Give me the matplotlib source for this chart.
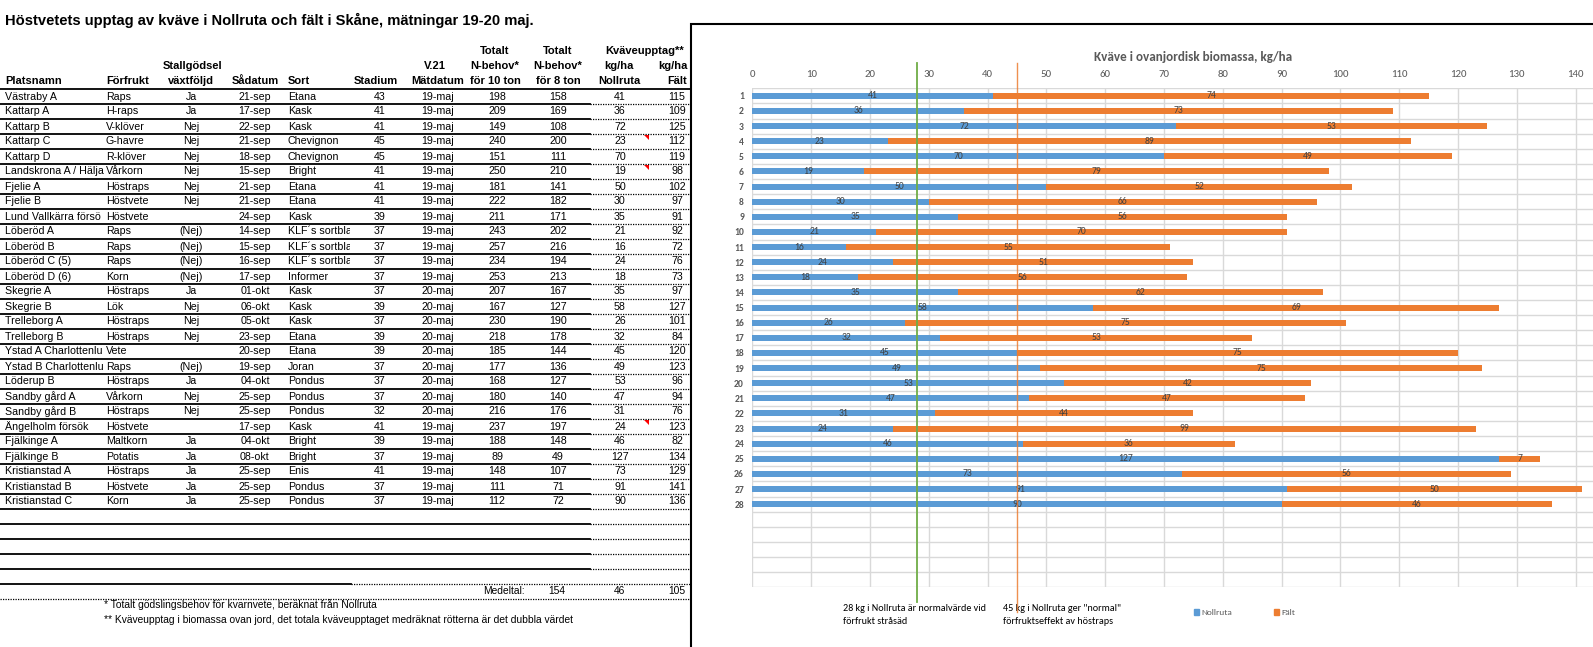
import numpy as np
import matplotlib
matplotlib.use("Agg")
import matplotlib.pyplot as plt
from matplotlib import font_manager
from matplotlib.patches import Rectangle, Polygon, Patch
from matplotlib.transforms import Bbox, blended_transform_factory

# ---------------- data ----------------
title = "Höstvetets upptag av kväve i Nollruta och fält i Skåne, mätningar 19-20 maj."
platsnamn = ["Västraby A", "Kattarp A", "Kattarp B", "Kattarp C", "Kattarp D",
             "Landskrona A / Hälja", "Fjelie A", "Fjelie B", "Lund Vallkärra försö",
             "Löberöd A", "Löberöd B", "Löberöd C (5)", "Löberöd D (6)", "Skegrie A",
             "Skegrie B", "Trelleborg A", "Trelleborg B", "Ystad A Charlottenlu",
             "Ystad B Charlottenlu", "Löderup B", "Sandby gård A", "Sandby gård B",
             "Ängelholm försök", "Fjälkinge A", "Fjälkinge B", "Kristianstad A",
             "Kristianstad B", "Kristianstad C"]
forfrukt = ["Raps", "H-raps", "V-klöver", "G-havre", "R-klöver", "Vårkorn", "Höstraps",
            "Höstvete", "Höstvete", "Raps", "Raps", "Raps", "Korn", "Höstraps", "Lök",
            "Höstraps", "Höstraps", "Vete", "Raps", "Höstraps", "Vårkorn", "Höstraps",
            "Höstvete", "Maltkorn", "Potatis", "Höstraps", "Höstvete", "Korn"]
stallgodsel = ["Ja", "Ja", "Nej", "Nej", "Nej", "Nej", "Nej", "Nej", "", "(Nej)", "(Nej)",
               "(Nej)", "(Nej)", "Ja", "Nej", "Nej", "Nej", "", "(Nej)", "Ja", "Nej", "Nej",
               "", "Ja", "Ja", "Ja", "Ja", "Ja"]
sadatum = ["21-sep", "17-sep", "22-sep", "21-sep", "18-sep", "15-sep", "21-sep", "21-sep",
           "24-sep", "14-sep", "15-sep", "16-sep", "17-sep", "01-okt", "06-okt", "05-okt",
           "23-sep", "20-sep", "19-sep", "04-okt", "25-sep", "25-sep", "17-sep", "04-okt",
           "08-okt", "25-sep", "25-sep", "25-sep"]
sort_ = ["Etana", "Kask", "Kask", "Chevignon", "Chevignon", "Bright", "Etana", "Etana",
         "Kask", "KLF´s sortbla", "KLF´s sortbla", "KLF´s sortbla", "Informer", "Kask",
         "Kask", "Kask", "Etana", "Etana", "Joran", "Pondus", "Pondus", "Pondus", "Kask",
         "Bright", "Bright", "Enis", "Pondus", "Pondus"]
stadium = [43, 41, 41, 45, 45, 41, 41, 41, 39, 37, 37, 37, 37, 37, 39, 37, 39, 39, 37, 37,
           37, 32, 41, 39, 37, 41, 37, 37]
matdatum = ["19-maj"] * 13 + ["20-maj"] * 9 + ["19-maj"] * 6
nbehov10 = [198, 209, 149, 240, 151, 250, 181, 222, 211, 243, 257, 234, 253, 207, 167, 230,
            218, 185, 177, 168, 180, 216, 237, 188, 89, 148, 111, 112]
nbehov8 = [158, 169, 108, 200, 111, 210, 141, 182, 171, 202, 216, 194, 213, 167, 127, 190,
           178, 144, 136, 127, 140, 176, 197, 148, 49, 107, 71, 72]
nollruta = [41, 36, 72, 23, 70, 19, 50, 30, 35, 21, 16, 24, 18, 35, 58, 26, 32, 45, 49, 53,
            47, 31, 24, 46, 127, 73, 91, 90]
falt = [115, 109, 125, 112, 119, 98, 102, 97, 91, 92, 72, 76, 73, 97, 127, 101, 84, 120,
        123, 96, 94, 76, 123, 82, 134, 129, 141, 136]
medeltal = ["154", "46", "105"]
comment_rows = [3, 5, 22]

# chart data
chart_categories = [str(i) for i in range(1, 29)]
chart_nollruta = [41, 36, 72, 23, 70, 19, 50, 30, 35, 21, 16, 24, 18, 35, 58, 26, 32, 45,
                  49, 53, 47, 31, 24, 46, 127, 73, 91, 90]
chart_falt_okning = [74, 73, 53, 89, 49, 79, 52, 66, 56, 70, 55, 51, 56, 62, 69, 75, 53, 75,
                     75, 42, 47, 44, 99, 36, 7, 56, 50, 46]
n_slots = 33
ref_strasad = 28
ref_hostraps = 45
chart_title = "Kväve i ovanjordisk biomassa, kg/ha"
x_ticks = list(range(0, 151, 10))
x_ticklabels = [str(v) if v <= 140 else "" for v in x_ticks]

# ---------------- figure ----------------
W, H = 1593, 647
fig = plt.figure(figsize=(W / 100, H / 100), dpi=100)
bg = fig.add_axes([0, 0, 1, 1])
bg.set_xlim(0, W)
bg.set_ylim(H, 0)
bg.axis("off")


def has_font(name):
    try:
        font_manager.findfont(font_manager.FontProperties(family=name),
                              fallback_to_default=False)
        return True
    except Exception:
        return False


TF = "Liberation Sans"
NF = "Liberation Sans Narrow" if has_font("Liberation Sans Narrow") else "Liberation Sans"
CF = "Carlito" if has_font("Carlito") else "Lato"

renderer = fig.canvas.get_renderer()


def size_for(s, target, **kw):
    t = bg.text(0, 300, s, fontsize=10, **kw)
    w = t.get_window_extent(renderer).width
    t.remove()
    return 10.0 * target / w


fs_body = size_for("Kristianstad C", 66, family=TF)
fs_head = size_for("Platsnamn", 56, family=TF, weight="bold")
fs_title = size_for(title, 532, family=TF, weight="bold")
fs_foot = size_for("** Kväveupptag i biomassa ovan jord, det totala kväveupptaget medräknat rötterna är det dubbla värdet", 468, family=NF)
fs_tick = size_for("140", 16.7, family=CF)
fs_cat = size_for("28", 9.7, family=CF, weight="bold")
fs_lab = size_for("36", 9.8, family=CF)
fs_ctitle = size_for(chart_title, 197, family=CF, weight="bold")
fs_ann = size_for("28 kg i Nollruta är normalvärde vid", 144, family=CF)
fs_leg = size_for("Nollruta", 31, family=CF)

# ---------------- table ----------------
bg.text(5, 20, title, family=TF, weight="bold", fontsize=fs_title, va="center", ha="left")

hdr = dict(family=TF, weight="bold", fontsize=fs_head, va="center")
y1, y2, y3 = 51, 66, 81
bg.text(5, y3, "Platsnamn", ha="left", **hdr)
bg.text(106, y3, "Förfrukt", ha="left", **hdr)
bg.text(193, y2, "Stallgödsel", ha="center", **hdr)
bg.text(191, y3, "växtföljd", ha="center", **hdr)
bg.text(255, y3, "Sådatum", ha="center", **hdr)
bg.text(288, y3, "Sort", ha="left", **hdr)
bg.text(376, y3, "Stadium", ha="center", **hdr)
bg.text(435, y2, "V.21", ha="center", **hdr)
bg.text(438, y3, "Mätdatum", ha="center", **hdr)
bg.text(495, y1, "Totalt", ha="center", **hdr)
bg.text(495, y2, "N-behov*", ha="center", **hdr)
bg.text(495, y3, "för 10 ton", ha="center", **hdr)
bg.text(558, y1, "Totalt", ha="center", **hdr)
bg.text(558, y2, "N-behov*", ha="center", **hdr)
bg.text(558, y3, "för 8 ton", ha="center", **hdr)
bg.text(605, y1, "Kväveupptag**", ha="left", **hdr)
bg.text(619, y2, "kg/ha", ha="center", **hdr)
bg.text(619, y3, "Nollruta", ha="center", **hdr)
bg.text(673, y2, "kg/ha", ha="center", **hdr)
bg.text(677, y3, "Fält", ha="center", **hdr)
bg.plot([0, 691], [89, 89], color="black", lw=1.3)

body = dict(family=TF, fontsize=fs_body, va="center")
row0, dy = 96.5, 15.0
for i in range(len(platsnamn)):
    y = row0 + dy * i
    t = bg.text(5, y, platsnamn[i], ha="left", clip_on=True, **body)
    t.set_clip_box(Bbox.from_extents(0, 0, 104, H))
    bg.text(106, y, forfrukt[i], ha="left", **body)
    bg.text(191, y, stallgodsel[i], ha="center", **body)
    bg.text(255, y, sadatum[i], ha="center", **body)
    t = bg.text(288, y, sort_[i], ha="left", clip_on=True, **body)
    t.set_clip_box(Bbox.from_extents(0, 0, 350, H))
    bg.text(380, y, str(stadium[i]), ha="center", **body)
    bg.text(438, y, matdatum[i], ha="center", **body)
    bg.text(497, y, str(nbehov10[i]), ha="center", **body)
    bg.text(558, y, str(nbehov8[i]), ha="center", **body)
    bg.text(620, y, str(nollruta[i]), ha="center", **body)
    bg.text(677, y, str(falt[i]), ha="center", **body)

# row separator lines
n = len(platsnamn)
for k in range(n + 4):
    y = row0 + dy * k + 7.5
    bg.plot([0, 590], [y, y], color="black", lw=1.3)
    bg.plot([590, 691], [y, y], color="black", lw=0.9, ls=(0, (1, 1)))
y = row0 + dy * (n + 4) + 7.5
bg.plot([0, 351], [y, y], color="black", lw=1.3)
bg.plot([351, 691], [y, y], color="black", lw=0.9, ls=(0, (1, 1)))
y = row0 + dy * (n + 5) + 7.5
bg.plot([0, 691], [y, y], color="black", lw=0.9, ls=(0, (1, 1)))

# comment indicators
for r in comment_rows:
    top = row0 + dy * r - 7.0
    bg.add_patch(Polygon([(644, top), (649, top), (649, top + 5)], closed=True,
                         color="red", lw=0))

foot = dict(family=NF, fontsize=fs_foot, va="center", ha="left")
ym = 591.5
bg.text(483, ym, "Medeltal:", **foot)
bg.text(557, ym, medeltal[0], **{**foot, "ha": "center"})
bg.text(620, ym, medeltal[1], **{**foot, "ha": "center"})
bg.text(677, ym, medeltal[2], **{**foot, "ha": "center"})
bg.text(104, 605, "* Totalt gödslingsbehov för kvarnvete, beräknat från Nollruta", **foot)
bg.text(104, 620, "** Kväveupptag i biomassa ovan jord, det totala kväveupptaget medräknat rötterna är det dubbla värdet", **foot)

# chart box
bg.add_patch(Rectangle((691, 24), 1000, 700, facecolor="white", edgecolor="black",
                       lw=1.5, zorder=20, clip_on=False))
bg.text(1193, 56.7, chart_title, family=CF, weight="bold", color="#595959",
        fontsize=fs_ctitle, ha="center", va="center", zorder=30)

# ---------------- chart ----------------
x0px, ppu = 752.3, 5.881
top_px, bot_px = 88.3, 587.3
ax = fig.add_axes([x0px / W, 1 - bot_px / H, 150 * ppu / W, (bot_px - top_px) / H])
ax.patch.set_alpha(0)
pos = np.arange(1, len(chart_categories) + 1)
blue, orange = "#5B9BD5", "#ED7D31"
b1 = ax.barh(pos, chart_nollruta, height=0.4, color=blue, zorder=2, label="Nollruta")
b2 = ax.barh(pos, chart_falt_okning, left=chart_nollruta, height=0.4, color=orange,
             zorder=2, label="Fält")
for c in (b1, b2):
    ax.bar_label(c, label_type="center", fontsize=fs_lab, color="#404040", family=CF)

ax.set_xlim(0, 150)
ax.set_ylim(n_slots + 0.5, 0.5)
ax.xaxis.tick_top()
ax.set_xticks(x_ticks)
ax.set_xticklabels(x_ticklabels, family=CF)
ax.set_yticks(pos)
ax.set_yticklabels(chart_categories, family=CF, weight="bold")
ax.set_yticks(np.arange(0.5, n_slots + 1, 1), minor=True)
ax.tick_params(axis="x", length=0, pad=7, labelsize=fs_tick, labelcolor="#595959")
ax.tick_params(axis="y", which="both", length=0, pad=6, labelsize=fs_cat,
               labelcolor="#595959")
ax.grid(axis="x", which="major", color="#D9D9D9", lw=1, zorder=0)
ax.grid(axis="y", which="minor", color="#D9D9D9", lw=1, zorder=0)
ax.grid(axis="y", which="major", visible=False)
ax.set_axisbelow(True)
for s in ax.spines.values():
    s.set_visible(False)

tr = blended_transform_factory(ax.transData, ax.transAxes)
fr = lambda py: (bot_px - py) / (bot_px - top_px)
ax.plot([ref_strasad, ref_strasad], [fr(63), fr(602)], transform=tr, clip_on=False,
        color="#70AD47", lw=1.3, zorder=4)
ax.plot([ref_hostraps, ref_hostraps], [fr(63), fr(612)], transform=tr, clip_on=False,
        color="#ED7D31", lw=1.0, alpha=0.85, zorder=4)

ann = dict(family=CF, fontsize=fs_ann, color="black", ha="left", va="center", zorder=30)
bg.text(843.3, 608.5, "28 kg i Nollruta är normalvärde vid", **ann)
bg.text(843.3, 622.0, "förfrukt stråsäd", **ann)
bg.text(1003, 608.5, "45 kg i Nollruta ger \"normal\"", **ann)
bg.text(1003, 622.0, "förfruktseffekt av höstraps", **ann)

fs_leg_px = fs_leg * 100 / 72
ax.legend(handles=[Patch(color=blue, label="Nollruta"), Patch(color=orange, label="Fält")],
          loc="center left", bbox_to_anchor=(1194.3, 612.3), bbox_transform=bg.transData,
          ncol=2, frameon=False, prop=dict(family=CF, size=fs_leg),
          labelcolor="#595959", handlelength=4.7 / fs_leg_px, handleheight=0.6,
          handletextpad=2.7 / fs_leg_px, columnspacing=41.6 / fs_leg_px,
          borderpad=0, borderaxespad=0)

fig.savefig("out.png", dpi=100)
